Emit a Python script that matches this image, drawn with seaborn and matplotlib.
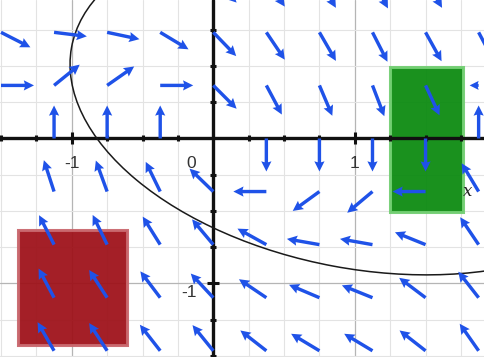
import numpy as np
import pandas as pd
import matplotlib
matplotlib.use("Agg")
import matplotlib.pyplot as plt
from matplotlib.patches import Rectangle, Ellipse
import seaborn as sns

# Sample grid of the direction field
x_cols = [-1.5, -1.125, -0.75, -0.375, 0.0, 0.375, 0.75, 1.125, 1.5, 1.875]
y_rows = [1.098, 0.732, 0.366, 0.0, -0.366, -0.732, -1.098, -1.464]

# Arrow direction (degrees, counter-clockwise from +x) per row, left to right.
# None means no arrow at that sample.
dir_row_1 = [None, -10, -10, -20, -45, -56, -60, -62, -60, -62]
dir_row_2 = [-27, -7, -12, -31, -46, -56, -60, -63, -61, -62]
dir_row_3 = [0, 39, 35, 0, -45, -62, -67, -69, -65, 180]
dir_row_4 = [None, 90, 90, 90, None, -90, -90, -90, -90, 90]
dir_row_5 = [None, 108, 110, 116, 136, 180, 216, 220, 180, 121]
dir_row_6 = [None, 117, 116, 122, 130, 151, 170, 170, 158, 124]
dir_row_7 = [None, 118, 123, 127, 133, 146, 157, 158, 143, 128]
dir_row_8 = [None, 120, 123, 128, 129, 142, 149, 149, 142, 125]
dir_rows = [dir_row_1, dir_row_2, dir_row_3, dir_row_4,
            dir_row_5, dir_row_6, dir_row_7, dir_row_8]

# Arrows drawn shorter than the rest: (row index, column index) -> length in px
short_arrows = {(2, 9): 9}

# Axis tick labels
x_tick_labels = {-1: "-1", 0: "0", 1: "1"}
y_tick_labels = {-1: "-1"}

# Highlighted regions: (x0, y0, width, height)
red_region = (-1.378, -1.422, 0.766, 0.793)
green_region = (1.249, -0.505, 0.518, 1.0)

# Closed orbit: centre, full width, full height, tilt in degrees
orbit_center = (1.056, 0.252)
orbit_width = 4.183
orbit_height = 2.302
orbit_angle = -10.3

sns.set_theme(style="white")
plt.rcParams["font.family"] = ["Liberation Sans", "DejaVu Sans"]

ARROW_PX = 33
BLUE = "#1f52e8"

records = []
for i, (yv, row) in enumerate(zip(y_rows, dir_rows)):
    for j, (xv, ang) in enumerate(zip(x_cols, row)):
        if ang is None:
            continue
        records.append({"x": xv, "y": yv, "angle": ang,
                        "length": short_arrows.get((i, j), ARROW_PX)})
field = pd.DataFrame(records)
rad = np.deg2rad(field["angle"].to_numpy(dtype=float))
field["u"] = field["length"] * np.cos(rad)
field["v"] = field["length"] * np.sin(rad)

fig = plt.figure(figsize=(4.85, 3.57), dpi=100)
ax = fig.add_axes([0, 0, 1, 1])
ax.set_xlim(-1.507, 1.920)
ax.set_ylim(-1.507, 0.955)

# Background grid: fine every 0.25, slightly darker at whole units
ax.set_xticks(np.arange(-1, 2, 1.0))
ax.set_yticks(np.arange(-1, 1, 1.0))
ax.set_xticks(np.arange(-1.5, 2.0, 0.25), minor=True)
ax.set_yticks(np.arange(-1.5, 1.0, 0.25), minor=True)
ax.grid(which="minor", color="#e3e3e3", lw=0.8, zorder=0)
ax.grid(which="major", color="#b5b5b5", lw=0.9, zorder=0)
ax.tick_params(which="both", length=0, labelbottom=False, labelleft=False)
ax.set_axisbelow(True)
for s in ax.spines.values():
    s.set_visible(False)

# Highlighted regions
rx, ry, rw, rh = red_region
ax.add_patch(Rectangle((rx, ry), rw, rh, facecolor="#9e1119", edgecolor="#c9676d",
                       lw=2.2, alpha=0.94, zorder=1))
gx, gy, gw, gh = green_region
ax.add_patch(Rectangle((gx, gy), gw, gh, facecolor="#0b8a10", edgecolor="#73cf73",
                       lw=2.2, alpha=0.94, zorder=1))

# Coordinate axes with tick marks
ax.axhline(0, color="#111111", lw=2.4, zorder=2)
ax.axvline(0, color="#111111", lw=2.4, zorder=2)
tick_pos = np.arange(-1.5, 2.0, 0.25)
small = [t for t in tick_pos if abs(t) > 1e-9 and abs(abs(t) - 1) > 1e-9]
big = [t for t in tick_pos if abs(abs(t) - 1) < 1e-9]
ax.plot(small, np.zeros(len(small)), ls="none", marker="|", ms=4.5, mew=2.2,
        color="#111111", zorder=2)
ax.plot(big, np.zeros(len(big)), ls="none", marker="|", ms=9, mew=2.2,
        color="#111111", zorder=2)
ax.plot(np.zeros(len(small)), small, ls="none", marker="_", ms=4.5, mew=2.2,
        color="#111111", zorder=2)
ax.plot(np.zeros(len(big)), big, ls="none", marker="_", ms=9, mew=2.2,
        color="#111111", zorder=2)

# Closed orbit
ax.add_patch(Ellipse(orbit_center, orbit_width, orbit_height, angle=orbit_angle,
                     fill=False, edgecolor="#1a1a1a", lw=1.1, zorder=2.5))

# Direction field
ax.quiver(field["x"], field["y"], field["u"], field["v"],
          angles="uv", scale_units="dots", scale=1, units="dots",
          width=3.4, headwidth=3.0, headlength=3.0, headaxislength=2.7,
          color=BLUE, pivot="tail", zorder=3)

# Tick labels
for val, txt in x_tick_labels.items():
    xpos = val if val != 0 else -0.158
    ax.text(xpos, -0.17, txt, ha="center", va="center", fontsize=12.5,
            color="#333333", zorder=4)
for val, txt in y_tick_labels.items():
    ax.text(-0.17, val - 0.06, txt, ha="center", va="center", fontsize=12.5,
            color="#333333", zorder=4)
ax.text(1.795, -0.365, "x", ha="center", va="center", fontsize=12,
        style="italic", family=["DejaVu Serif"], color="#222222", zorder=4)

fig.savefig("out.png", dpi=100)
